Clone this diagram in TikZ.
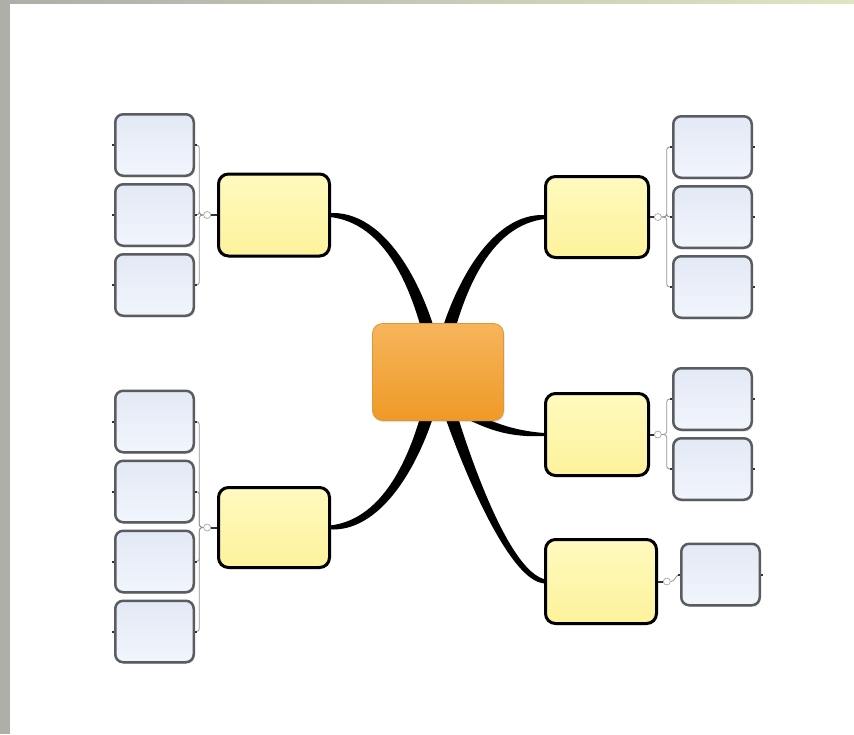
\documentclass[tikz,border=0pt]{standalone}
\usepackage{tikz}
\usetikzlibrary{positioning}
\usetikzlibrary{calc}
\usetikzlibrary{shadows}
\pgfdeclarelayer{branchbg}
\pgfsetlayers{branchbg,main}

\definecolor{framegray}{HTML}{ADAFA8}
\definecolor{framegreen}{HTML}{DDE6C2}
\definecolor{centertop}{HTML}{F6B55C}
\definecolor{centerbot}{HTML}{EF9A26}
\definecolor{centeredge}{HTML}{E39438}
\definecolor{topictop}{HTML}{FFFABE}
\definecolor{topicbot}{HTML}{FDF29C}
\definecolor{subtop}{HTML}{E3E9F5}
\definecolor{subbot}{HTML}{F1F5FC}
\definecolor{subedge}{HTML}{5A5C60}

\tikzset{
	central/.style={rectangle, rounded corners=10pt, draw=centeredge, line width=0.8pt,
		top color=centertop, bottom color=centerbot, minimum width=131pt, minimum height=97pt,
		drop shadow={opacity=0.25, shadow xshift=1pt, shadow yshift=-1.5pt}},
	topic/.style={rectangle, rounded corners=10pt, draw=black, line width=3pt,
		top color=topictop, bottom color=topicbot, minimum width=111pt, minimum height=82pt,
		drop shadow={opacity=0.3, shadow xshift=1pt, shadow yshift=-1.5pt}},
	subtopic/.style={rectangle, rounded corners=8pt, draw=subedge, line width=2.5pt,
		top color=subtop, bottom color=subbot, minimum width=78.5pt, minimum height=61.5pt,
		drop shadow={opacity=0.3, shadow xshift=1pt, shadow yshift=-1.5pt}},
	knob/.style={circle, draw=gray!70, fill=white, line width=0.7pt, inner sep=0pt, minimum size=7pt},
	hook/.style={draw=gray!85, line width=0.8pt, rounded corners=3pt},
	stub/.style={draw=black!80, line width=2pt},
	branch/.style={fill=black},
}

\begin{document}
\begin{tikzpicture}[x=1pt, y=-1pt]
	\useasboundingbox (0,0) rectangle (854,734);

	% Levels 1 & 2
	\node [central] at (438,372) (1C) {};
	\node [topic] at (274,215) (2TL) {};
	\node [topic, minimum width=103pt, minimum height=81pt] at (597,217) (2TR) {};
	\node [topic, minimum width=103pt] at (597,434.5) (2MR) {};
	\node [topic, minimum height=84pt] at (601,581.5) (2BR) {};
	\node [topic, minimum height=80pt] at (274,527.5) (2BL) {};

	% Knobs
	\node [knob, left=6pt of 2TL] (2TLo) {};
	\node [knob, left=6pt of 2BL] (2BLo) {};
	\node [knob, right=4pt of 2TR] (2TRo) {};
	\node [knob, right=4pt of 2MR] (2MRo) {};
	\node [knob, right=5pt of 2BR] (2BRo) {};

	% Level 3, left
	\node [subtopic, left=22pt of 2TL] (3TLb) {};
	\node [subtopic, above=6pt of 3TLb] (3TLa) {};
	\node [subtopic, below=6pt of 3TLb] (3TLc) {};
	\node [subtopic, left=22pt of 2BL, yshift=36pt] (3BLb) {};
	\node [subtopic, above=6pt of 3BLb] (3BLa) {};
	\node [subtopic, below=6pt of 3BLb] (3BLc) {};
	\node [subtopic, below=6pt of 3BLc] (3BLd) {};

	% Level 3, right
	\node [subtopic, right=22pt of 2TR] (3TRb) {};
	\node [subtopic, above=6pt of 3TRb] (3TRa) {};
	\node [subtopic, below=6pt of 3TRb] (3TRc) {};
	\node [subtopic, right=22pt of 2MR, yshift=35.5pt] (3MRa) {};
	\node [subtopic, below=6pt of 3MRa] (3MRb) {};
	\node [subtopic, right=22pt of 2BR, yshift=7pt] (3BRa) {};

	% Background and branches
	\begin{pgfonlayer}{branchbg}
	\fill[white] (0,0) rectangle (854,734);
	\fill[framegray] (0,0) rectangle (10,734);
	\shade[left color=framegray, right color=framegreen] (0,0) rectangle (854,3);
	\fill[branch] ($(2TL.east)+(-3,-1.8)$) .. controls +(58,-5) and +(-15,-82) .. ($(1C.center)+(7,0)$)
		-- ($(1C.center)+(-7,0)$) .. controls +(-15,-82) and +(58,5) .. ($(2TL.east)+(-3,1.8)$) -- cycle;
	\fill[branch] ($(2TR.west)+(3,-1.8)$) .. controls +(-58,-5) and +(15,-77) .. ($(1C.center)+(-7,0)$)
		-- ($(1C.center)+(7,0)$) .. controls +(15,-77) and +(-58,5) .. ($(2TR.west)+(3,1.8)$) -- cycle;
	\fill[branch] ($(2BL.east)+(-3,1.8)$) .. controls +(58,5) and +(-15,78) .. ($(1C.center)+(7,0)$)
		-- ($(1C.center)+(-7,0)$) .. controls +(-15,78) and +(58,-5) .. ($(2BL.east)+(-3,-1.8)$) -- cycle;
	\fill[branch] ($(2BR.west)+(3,1.8)$) .. controls +(-42,5) and +(12,48) .. ($(1C.center)+(-7,0)$)
		-- ($(1C.center)+(7,0)$) .. controls +(12,48) and +(-42,-5) .. ($(2BR.west)+(3,-1.8)$) -- cycle;
	\fill[branch] ($(2MR.west)+(3,-1.3)$) .. controls +(-46,-3) and +(38,20) .. ($(1C.center)+(2,23)$)
		-- ($(1C.center)+(2,33)$) .. controls +(38,20) and +(-46,3) .. ($(2MR.west)+(3,1.3)$) -- cycle;
	\end{pgfonlayer}

	% Connections
	\draw[stub] (node cs:name=2TL, anchor=west) -- (node cs:name=2TLo);
	\draw[stub] (node cs:name=2BL, anchor=west) -- (node cs:name=2BLo);
	\draw[stub] (node cs:name=2TR, anchor=east) -- (node cs:name=2TRo);
	\draw[stub] (node cs:name=2MR, anchor=east) -- (node cs:name=2MRo);
	\draw[stub] (node cs:name=2BR, anchor=east) -- (node cs:name=2BRo);
	\foreach \n in {3TLa,3TLb,3TLc}
		\draw[hook] (2TLo.west) -- ++(-4,0) |- (\n.east);
	\foreach \n in {3BLa,3BLb,3BLc,3BLd}
		\draw[hook] (2BLo.west) -- ++(-4,0) |- (\n.east);
	\foreach \n in {3TRa,3TRb,3TRc}
		\draw[hook] (2TRo.east) -- ++(5,0) |- (\n.west);
	\foreach \n in {3MRa,3MRb}
		\draw[hook] (2MRo.east) -- ++(5,0) |- (\n.west);
	\draw[hook] (2BRo.east) to[out=0, in=180] (3BRa.west);
	\foreach \n in {3TLa,3TLb,3TLc,3BLa,3BLb,3BLc,3BLd}{
		\draw[stub] (\n.west) -- ++(-2,0);
		\draw[stub] (\n.east) -- ++(2,0);
	}
	\foreach \n in {3TRa,3TRb,3TRc,3MRa,3MRb,3BRa}{
		\draw[stub] (\n.east) -- ++(2,0);
		\draw[stub] (\n.west) -- ++(-2,0);
	}
\end{tikzpicture}
\end{document}
